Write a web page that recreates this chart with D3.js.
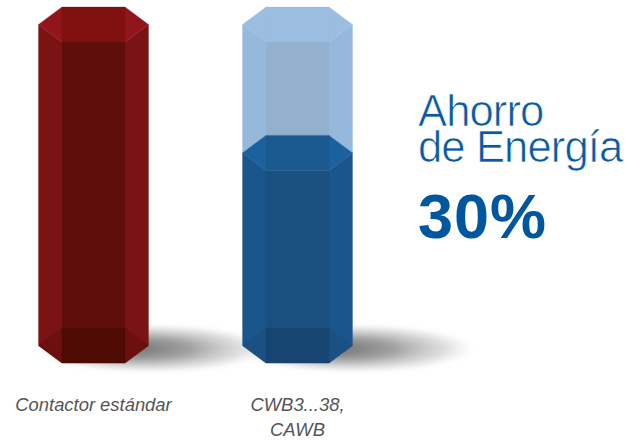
<!DOCTYPE html>
<html>
<head>
<meta charset="utf-8">
<script src="https://cdn.jsdelivr.net/npm/d3@7"></script>
<style>
  html, body { margin: 0; padding: 0; background: #fff; }
  svg { display: block; }
</style>
</head>
<body>
<script>
// data
var categories = ["Contactor estándar", "CWB3...38,|CAWB"];
var energyValues = [100, 60];
var ghostValues = [null, 100];
var headingLines = ["Ahorro", "de Energía"];
var savingLabel = "30%";

var svgWidth = 636;
var svgHeight = 443;

var svg = d3.select("body")
  .append("svg")
  .attr("width", svgWidth)
  .attr("height", svgHeight);

var xScale = d3.scalePoint().domain(categories).range([93.5, 297.5]);
var yScale = d3.scaleLinear().domain([0, 100]).range([345.5, 24.5]);

// prism shape
var halfWidth = 55;
var innerHalf = 31.5;
var depth = 17.5;

var redColors = {
  top: "#801110", topSide: "#91151a", side: "#7a1414", front: "#5f0f0b",
  bottom: "#4e0b03", bottomSide: "#6c0f0e"
};
var blueColors = {
  top: "#1a5a90", topSide: "#1c619f", side: "#1a568c", front: "#1a5080",
  bottom: "#174572", bottomSide: "#1a5084"
};
var ghostColors = {
  top: "#9abde0", topSide: "#9abde0", side: "#96b8dc", front: "#93b1cf"
};

var defs = svg.append("defs");

var grad = defs.append("radialGradient")
  .attr("id", "shadowGrad")
  .attr("fx", "38%").attr("fy", "50%");
grad.append("stop").attr("offset", "0%").attr("stop-color", "#6a6a6a").attr("stop-opacity", 1);
grad.append("stop").attr("offset", "45%").attr("stop-color", "#909090").attr("stop-opacity", 0.85);
grad.append("stop").attr("offset", "80%").attr("stop-color", "#c0c0c0").attr("stop-opacity", 0.5);
grad.append("stop").attr("offset", "100%").attr("stop-color", "#ddd").attr("stop-opacity", 0);

defs.append("filter")
  .attr("id", "blur")
  .attr("x", "-30%").attr("y", "-80%")
  .attr("width", "160%").attr("height", "260%")
  .append("feGaussianBlur")
  .attr("stdDeviation", 2);

var line = d3.line();

function face(g, pts, fill) {
  g.append("path")
    .attr("d", line(pts) + "Z")
    .attr("fill", fill)
    .attr("stroke", fill)
    .attr("stroke-width", 0.3);
}

function drawWalls(g, cx, yTop, yBase, c) {
  var l = cx - halfWidth, r = cx + halfWidth, il = cx - innerHalf, ir = cx + innerHalf;
  face(g, [[l, yTop], [il, yTop + depth], [il, yBase + depth], [l, yBase]], c.side);
  face(g, [[r, yTop], [ir, yTop + depth], [ir, yBase + depth], [r, yBase]], c.side);
  face(g, [[il, yTop + depth], [ir, yTop + depth], [ir, yBase + depth], [il, yBase + depth]], c.front);
}

function drawCap(g, cx, y, c) {
  var l = cx - halfWidth, r = cx + halfWidth, il = cx - innerHalf, ir = cx + innerHalf;
  face(g, [[l, y], [il, y - depth], [il, y + depth]], c.topSide);
  face(g, [[r, y], [ir, y - depth], [ir, y + depth]], c.topSide);
  face(g, [[il, y - depth], [ir, y - depth], [ir, y + depth], [il, y + depth]], c.top);
}

function drawBottom(g, cx, y, c) {
  var l = cx - halfWidth, r = cx + halfWidth, il = cx - innerHalf, ir = cx + innerHalf;
  face(g, [[l, y], [il, y - depth], [il, y + depth]], c.bottomSide);
  face(g, [[r, y], [ir, y - depth], [ir, y + depth]], c.bottomSide);
  face(g, [[il, y - depth], [ir, y - depth], [ir, y + depth], [il, y + depth]], c.bottom);
}

// shadows first, they sit behind the bars
var shadows = svg.append("g").attr("filter", "url(#blur)");
categories.forEach(function(d) {
  shadows.append("ellipse")
    .attr("cx", xScale(d) + 60).attr("cy", yScale(0) + 3)
    .attr("rx", 118).attr("ry", 24)
    .attr("fill", "url(#shadowGrad)");
});

var bars = svg.append("g");
categories.forEach(function(d, i) {
  var cx = xScale(d);
  var g = bars.append("g");
  var fillColors = i === 0 ? redColors : blueColors;
  if (ghostValues[i] !== null) {
    drawWalls(g, cx, yScale(ghostValues[i]), yScale(energyValues[i]), ghostColors);
    drawCap(g, cx, yScale(ghostValues[i]), ghostColors);
  }
  drawWalls(g, cx, yScale(energyValues[i]), yScale(0), fillColors);
  drawBottom(g, cx, yScale(0), fillColors);
  drawCap(g, cx, yScale(energyValues[i]), fillColors);
});

// category labels
var labels = svg.append("g")
  .attr("font-family", "'Liberation Sans', Arial, sans-serif")
  .attr("font-style", "italic")
  .attr("font-size", 18.4)
  .attr("fill", "#555")
  .attr("text-anchor", "middle");

categories.forEach(function(d) {
  d.split("|").forEach(function(part, j) {
    labels.append("text")
      .attr("x", xScale(d))
      .attr("y", 411 + j * 25)
      .text(part);
  });
});

// heading on the right, white outline thins the regular weight down
svg.selectAll(".heading")
  .data(headingLines)
  .enter()
  .append("text")
  .attr("class", "heading")
  .attr("x", 418)
  .attr("y", (d, i) => 126 + i * 36)
  .attr("font-family", "'Liberation Sans', Arial, sans-serif")
  .attr("font-size", 43.6)
  .attr("letter-spacing", -0.9)
  .attr("fill", "#0a5aa3")
  .attr("stroke", "#fff")
  .attr("stroke-width", 0.7)
  .text(d => d);

svg.append("text")
  .attr("x", 418)
  .attr("y", 238)
  .attr("font-family", "'Liberation Sans', Arial, sans-serif")
  .attr("font-weight", 700)
  .attr("font-size", 63)
  .attr("letter-spacing", 1)
  .attr("fill", "#0057a0")
  .text(savingLabel);
</script>
</body>
</html>
